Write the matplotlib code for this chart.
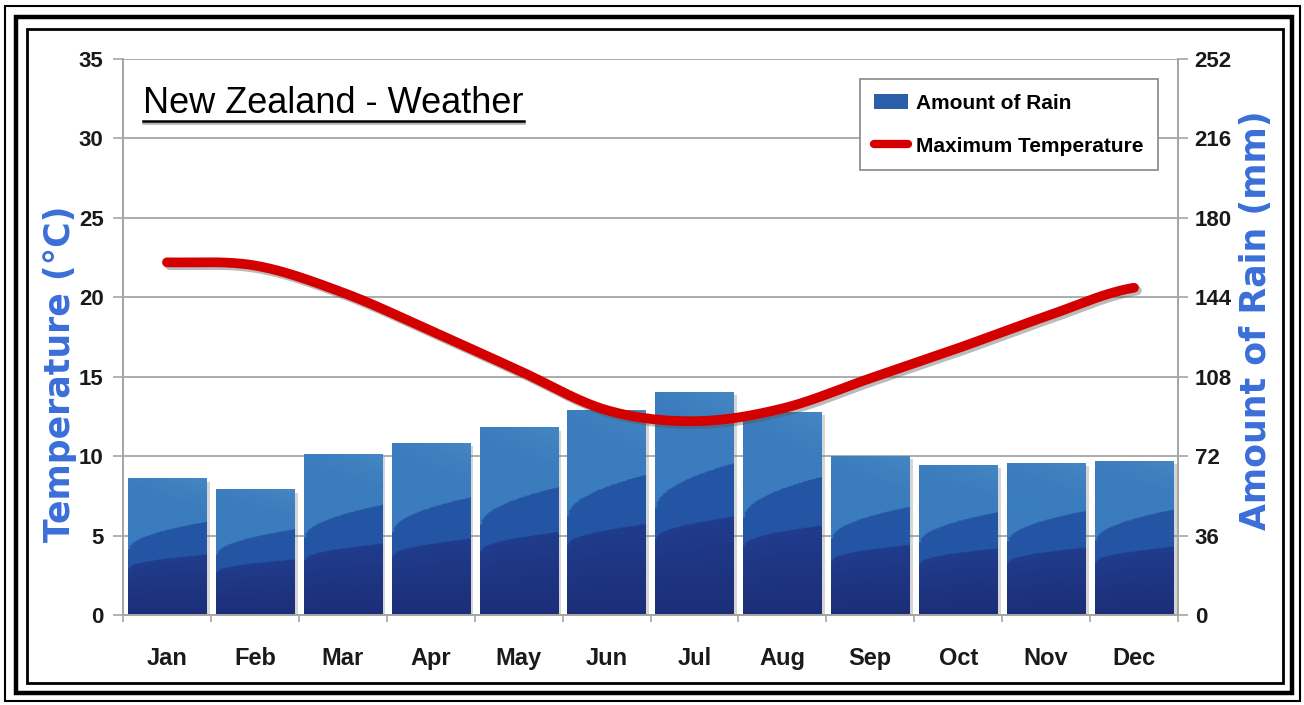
import numpy as np
import matplotlib
matplotlib.use("Agg")
import matplotlib.pyplot as plt
from matplotlib.patches import Rectangle, Patch
from matplotlib.lines import Line2D
import matplotlib.patheffects as pe

plt.rcParams['font.family'] = ['Liberation Sans Narrow', 'Liberation Sans', 'DejaVu Sans']

# dati
months = ["Jan", "Feb", "Mar", "Apr", "May", "Jun", "Jul", "Aug", "Sep", "Oct", "Nov", "Dec"]
rain_mm = [62, 57, 73, 78, 85, 93, 101, 92, 72, 68, 69, 70]
max_temp = [22.2, 22.0, 20.3, 17.9, 15.4, 12.9, 12.2, 13.0, 14.9, 16.8, 18.8, 20.6]
temp_ticks = [0, 5, 10, 15, 20, 25, 30, 35]
rain_ticks = [0, 36, 72, 108, 144, 180, 216, 252]

TICK_COL = "#1a1a1a"
GRID_COL = "#a6a6a6"
AXLAB_COL = "#3a6fd8"


def catmull_rom(x, y, n=30):
    """Curva liscia stile Excel attraverso i punti."""
    x = np.asarray(x, float)
    y = np.asarray(y, float)
    px = np.concatenate([[2 * x[0] - x[1]], x, [2 * x[-1] - x[-2]]])
    py = np.concatenate([[y[0]], y, [y[-1]]])
    xs, ys = [], []
    for i in range(1, len(px) - 2):
        t = np.linspace(0, 1, n, endpoint=False)
        p0, p1, p2, p3 = py[i - 1], py[i], py[i + 1], py[i + 2]
        q0, q1, q2, q3 = px[i - 1], px[i], px[i + 1], px[i + 2]
        h00 = 2 * t**3 - 3 * t**2 + 1
        h10 = t**3 - 2 * t**2 + t
        h01 = -2 * t**3 + 3 * t**2
        h11 = t**3 - t**2
        m1y, m2y = (p2 - p0) / 2, (p3 - p1) / 2
        m1x, m2x = (q2 - q0) / 2, (q3 - q1) / 2
        xs.append(h00 * q1 + h10 * m1x + h01 * q2 + h11 * m2x)
        ys.append(h00 * p1 + h10 * m1y + h01 * p2 + h11 * m2y)
    xs.append([x[-1]])
    ys.append([y[-1]])
    return np.concatenate(xs), np.concatenate(ys)


def bar_texture(nx=40, ny=200):
    """Sfumatura a bande come nelle barre originali."""
    xf = np.linspace(0, 1, nx)[None, :]
    yf = np.linspace(0, 1, ny)[:, None]
    dark = np.array([0x1c, 0x2e, 0x78]) / 255
    dark2 = np.array([0x20, 0x3c, 0x8c]) / 255
    mid = np.array([0x24, 0x55, 0xa5]) / 255
    light = np.array([0x3a, 0x7c, 0xbd]) / 255
    light2 = np.array([0x4a, 0x8c, 0xc6]) / 255
    b1 = 0.34 + 0.10 * np.sqrt(xf)
    b2 = 0.48 + 0.20 * np.sqrt(xf)
    img = np.zeros((ny, nx, 3))
    low = yf < b1
    midm = (yf >= b1) & (yf < b2)
    top = yf >= b2
    t = np.clip(yf / b1, 0, 1)[..., None]
    img += np.where(low[..., None], dark * (1 - t) + dark2 * t, 0)
    img += np.where(midm[..., None], mid, 0)
    streak = (yf - b2) / (1 - b2 + 1e-9) + 0.6 * xf
    s = np.clip(streak - 0.9, 0, 1)[..., None]
    img += np.where(top[..., None], light * (1 - s) + light2 * s, 0)
    return img


fig = plt.figure(figsize=(13.04, 7.05), dpi=100)

# cornice doppia
W, H = 1304, 705
def frame(x0, y0, x1, y1, lw):
    fig.patches.append(Rectangle((x0 / W, 1 - y1 / H), (x1 - x0) / W, (y1 - y0) / H,
                                 transform=fig.transFigure, fill=False,
                                 edgecolor="black", linewidth=lw))
frame(5, 6, 1300, 701, 1.5)
frame(16, 17, 1292, 693, 3.2)
frame(27, 29, 1283, 683, 2.0)

ax = fig.add_axes([123 / W, 1 - 615 / H, (1178 - 123) / W, (615 - 59) / H])
ax2 = ax.twinx()

x = np.arange(len(months))
width = 0.89
tex = bar_texture()

# barre pioggia (asse destro)
bars = ax.bar(x, rain_mm, width=width, color="none", zorder=2)
for b in bars:
    x0, w, h = b.get_x(), b.get_width(), b.get_height()
    sh = Rectangle((x0 + 0.04, 0), w, h - 1.5, facecolor="#888888", alpha=0.35,
                   edgecolor="none", zorder=1.5)
    ax.add_patch(sh)
    im = ax.imshow(tex, extent=(x0, x0 + w, 0, h), origin="lower",
                   aspect="auto", zorder=2, interpolation="bilinear")
    im.set_clip_path(b)

ax.set_xlim(-0.5, len(months) - 0.5)
ax.set_ylim(0, 252)
ax.set_yticks(rain_ticks)
ax.yaxis.tick_right()
ax.yaxis.set_label_position("right")
ax.grid(axis="y", color=GRID_COL, linewidth=1.3, zorder=0)
ax.set_axisbelow(True)

# linea temperatura (asse sinistro)
sx, sy = catmull_rom(x, max_temp)
ax2.plot(sx, sy, color="#d40000", linewidth=7, solid_capstyle="round", zorder=5,
         path_effects=[pe.SimpleLineShadow(offset=(2, -2), shadow_color="#555555", alpha=0.4),
                       pe.Normal()])
ax2.set_ylim(0, 35)
ax2.set_yticks(temp_ticks)
ax2.yaxis.tick_left()
ax2.yaxis.set_label_position("left")

for a in (ax, ax2):
    for side in ("top",):
        a.spines[side].set_visible(False)
    for side in ("left", "right", "bottom"):
        a.spines[side].set_color(GRID_COL)
        a.spines[side].set_linewidth(1.3)
    a.tick_params(axis="y", colors=GRID_COL, labelcolor=TICK_COL, labelsize=16,
                  length=7, width=1.2)
    for lab in a.get_yticklabels():
        lab.set_fontweight("bold")

ax.tick_params(axis="y", pad=5)
ax2.tick_params(axis="y", pad=7)

ax.set_xticks(x)
ax.set_xticklabels(months, fontsize=17, fontweight="bold", color=TICK_COL)
ax.set_xticks(np.arange(len(months) + 1) - 0.5, minor=True)
ax.tick_params(axis="x", which="major", length=0, pad=23)
ax.tick_params(axis="x", which="minor", length=5, color=GRID_COL, width=1.2)
ax2.tick_params(axis="x", length=0)

fig.text(60 / W, 1 - 374 / H, "Temperature (°C)", rotation=90, color=AXLAB_COL,
         fontsize=25, fontweight="bold", ha="center", va="center",
         family=["DejaVu Sans"])
fig.text(1256 / W, 1 - 320 / H, "Amount of Rain (mm)", rotation=90, color=AXLAB_COL,
         fontsize=25, fontweight="bold", ha="center", va="center",
         family=["DejaVu Sans"])

# titolo sottolineato
title = ax2.text(143 / W, 1 - 113 / H, "New Zealand - Weather", transform=fig.transFigure,
                 fontsize=26, color="black", ha="left", va="baseline")
fig.canvas.draw()
bb = title.get_window_extent()
ul_y = 1 - 121 / H
fig.lines.append(Line2D([bb.x0 / W, bb.x1 / W], [ul_y, ul_y], transform=fig.transFigure,
                        color="black", linewidth=1.8,
                        path_effects=[pe.SimpleLineShadow(offset=(0, -1.5), alpha=0.3), pe.Normal()]))

handles = [Patch(facecolor="#2a5ea8", edgecolor="none"),
           Line2D([0], [0], color="#d40000", linewidth=6, solid_capstyle="round")]
leg = ax2.legend(handles, ["Amount of Rain", "Maximum Temperature"],
                 loc="upper right", bbox_to_anchor=(0.981, 0.964), borderaxespad=0,
                 fancybox=False, edgecolor="#888888", framealpha=1,
                 prop={"size": 15, "weight": "bold"}, handlelength=1.6,
                 handletextpad=0.4, labelspacing=1.15, borderpad=0.7)
leg.get_frame().set_linewidth(1.2)

fig.savefig("out.png", dpi=100)
